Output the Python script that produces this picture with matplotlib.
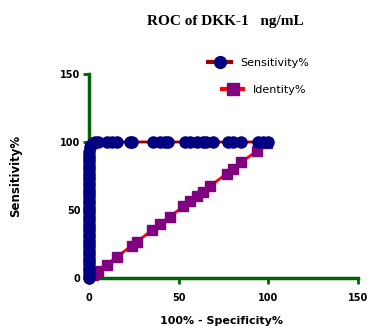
import matplotlib
matplotlib.use("Agg")
import matplotlib.pyplot as plt
from matplotlib.lines import Line2D

# Data
sens_fpr = [0, 0, 0, 0, 0, 0, 0, 0, 0, 0, 0, 0, 0, 0, 0, 0, 0, 0, 0, 0,
            0, 0, 0, 0, 0, 0, 0, 0, 0, 0, 0, 0, 0, 0, 0, 0, 0, 0,
            0.5, 1, 2, 3.3, 5.2, 9.9, 12.7, 15.4, 22.9, 23.8, 35.9, 39.6, 42.4,
            44.3, 53.5, 56.3, 60, 63.6, 65.5, 69.2, 77.5, 80.3, 85, 94.3, 97.1, 100]
sens_tpr = [0, 2.5, 5, 7.5, 10, 12.5, 15, 17.5, 20, 22.5, 25, 27.5, 30, 32.5, 35, 37.5,
            40, 42.5, 45, 47.5, 50, 52.5, 55, 57.5, 60, 62.5, 65, 67.5, 70, 72.5,
            75, 77.5, 80, 82.5, 85, 87.5, 90, 93,
            96, 98, 99, 100, 100, 100, 100, 100, 100, 100, 100, 100, 100,
            100, 100, 100, 100, 100, 100, 100, 100, 100, 100, 100, 100, 100]
ident_x = [2, 5.2, 9.9, 15.4, 23.8, 26.6, 35, 39.6, 45.2, 52.6, 56.3, 60, 63.6,
           67.5, 76.8, 80.5, 85, 93.5, 99]
ident_y = ident_x[:]

xticks = [0, 50, 100, 150]
yticks = [0, 50, 100, 150]

green = "#006400"
sans = "DejaVu Sans"
fig = plt.figure(figsize=(3.70, 3.26), dpi=100)
ax = fig.add_axes([89/370, 1-278/326, (358-89)/370, (278-74)/326])

ax.plot(ident_x, ident_y, color="#ff0000", lw=2, marker="s", ms=7,
        mfc="#800080", mec="#800080", clip_on=False, zorder=3)
ax.plot(sens_fpr, sens_tpr, color="#990000", lw=2, marker="o", ms=8,
        mfc="#000080", mec="#000080", clip_on=False, zorder=4)

ax.set_xlim(0, 150)
ax.set_ylim(0, 150)
ax.set_xticks(xticks)
ax.set_yticks(yticks)
for s in ["top", "right"]:
    ax.spines[s].set_visible(False)
for s in ["left", "bottom"]:
    ax.spines[s].set_color(green)
    ax.spines[s].set_linewidth(2.5)
ax.tick_params(colors=green, width=2, length=4, labelcolor="black")
for lab in ax.get_xticklabels() + ax.get_yticklabels():
    lab.set_fontweight("bold")
    lab.set_fontsize(7)
    lab.set_family(sans)
ax.tick_params(axis="x", pad=7)
ax.tick_params(axis="y", pad=2)

fig.text(222/370, 1-321/326, "100% - Specificity%", ha="center", va="center",
         fontsize=8, fontweight="bold", family=sans)
fig.text(16/370, 1-176/326, "Sensitivity%", ha="center", va="center", rotation=90,
         fontsize=8.5, fontweight="bold", family=sans)
fig.text(225/370, 1-21/326, "ROC of DKK-1   ng/mL", ha="center", va="center",
         fontsize=11, fontweight="bold", family="Liberation Serif")

h1 = Line2D([], [], color="#990000", lw=3, marker="o", ms=8.5, mfc="#000080", mec="#000080")
h2 = Line2D([], [], color="#ff0000", lw=3, marker="s", ms=8.5, mfc="#800080", mec="#800080")
fig.legend([h1], ["Sensitivity%"], loc="center left",
           bbox_to_anchor=(208/370, 1-63/326), frameon=False, borderpad=0,
           borderaxespad=0, prop={"family": sans, "size": 8}, handlelength=2.1,
           handletextpad=0.8)
fig.legend([h2], ["Identity%"], loc="center left",
           bbox_to_anchor=(222/370, 1-90/326), frameon=False, borderpad=0,
           borderaxespad=0, prop={"family": sans, "size": 8}, handlelength=1.9,
           handletextpad=0.9)

fig.savefig("out.png", dpi=100)
